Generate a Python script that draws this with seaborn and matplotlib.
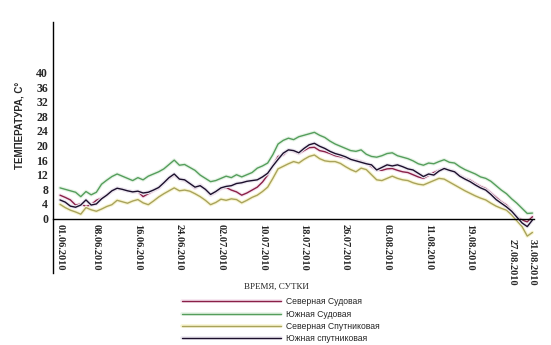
import numpy as np
import pandas as pd
import matplotlib
matplotlib.use("Agg")
import matplotlib.pyplot as plt
import matplotlib.patheffects as pe
from matplotlib.transforms import ScaledTranslation
import seaborn as sns

# ---- data -------------------------------------------------------------
dates = pd.date_range("2010-06-01", "2010-08-31", freq="D")

north_ship = [6.4, 5.8, 5.1, 3.7, 4.0, 3.3, 3.8, 5.0, 5.6, 6.4,
              7.5, 8.3, 8.0, 7.6, 7.3, 7.4, 6.0, 6.8, 7.6, 8.3,
              9.8, 11.0, 11.9, 10.8, 10.4, 9.6, 8.3, 9.2, 8.0, 6.4,
              7.2, 8.2, 8.5, 7.8, 7.3, 6.4, 7.0, 7.8, 8.6, 10.0,
              11.9, 14.5, 17.0, 17.4, 18.8, 18.4, 17.8, 18.6, 19.4, 19.5,
              18.6, 18.3, 17.8, 17.2, 16.9, 16.6, 16.2, 16.0, 15.6, 15.1,
              14.2, 13.3, 13.2, 13.6, 13.7, 13.2, 12.8, 12.6, 12.0, 11.4,
              11.0, 11.8, 12.6, 13.2, 13.7, 13.2, 12.8, 11.8, 11.0, 10.5,
              9.6, 8.8, 8.2, 7.0, 5.8, 4.6, 3.7, 2.2, 0.4, -0.4,
              -0.9, 0.5]

south_ship = [8.4, 8.0, 7.6, 7.2, 6.0, 7.4, 6.5, 7.2, 9.4, 10.5,
              11.5, 12.2, 11.6, 11.0, 10.4, 11.2, 10.6, 11.6, 12.2, 12.8,
              13.6, 14.8, 16.0, 14.6, 14.8, 14.0, 13.2, 11.9, 11.0, 10.1,
              10.4, 11.0, 11.6, 11.2, 12.0, 11.4, 12.0, 12.6, 13.8, 14.4,
              15.2, 17.5, 20.4, 21.4, 22.0, 21.6, 22.4, 22.8, 23.2, 23.6,
              22.8, 22.2, 21.2, 20.4, 19.8, 19.2, 18.6, 18.4, 18.8, 17.6,
              17.0, 16.8, 17.2, 17.8, 18.0, 17.2, 16.8, 16.4, 15.8, 15.0,
              14.6, 15.2, 15.0, 15.6, 16.1, 15.4, 15.2, 14.2, 13.4, 12.8,
              12.2, 11.4, 11.0, 10.2, 9.0, 7.8, 6.8, 5.4, 4.2, 2.8,
              1.4, 1.5]

north_sat = [3.9, 3.0, 2.3, 1.8, 1.2, 3.0, 2.4, 2.0, 2.6, 3.3,
             3.8, 5.0, 4.6, 4.2, 4.8, 5.2, 4.3, 3.8, 4.8, 5.9,
             6.8, 7.6, 8.4, 7.6, 7.8, 7.5, 6.8, 6.0, 5.0, 3.8,
             4.4, 5.3, 5.0, 5.4, 5.2, 4.3, 5.0, 5.8, 6.4, 7.4,
             8.6, 11.0, 13.6, 14.3, 15.0, 15.6, 15.2, 16.2, 17.0, 17.4,
             16.4, 15.8, 15.6, 15.6, 15.1, 14.2, 13.4, 12.8, 13.8, 13.4,
             12.0, 10.6, 10.4, 11.0, 11.6, 11.0, 10.6, 10.4, 9.8, 9.4,
             9.2, 9.8, 10.4, 11.0, 10.8, 10.0, 9.2, 8.4, 7.6, 6.9,
             6.2, 5.6, 5.1, 4.2, 3.4, 2.8, 2.3, 1.0, -0.6, -2.2,
             -4.8, -3.8]

south_sat = [5.1, 4.5, 3.4, 3.1, 3.7, 5.1, 3.7, 4.0, 5.4, 6.4,
             7.6, 8.3, 8.0, 7.6, 7.3, 7.5, 7.0, 7.2, 7.8, 8.5,
             9.8, 11.2, 12.2, 10.8, 10.6, 9.6, 8.6, 9.0, 8.0, 6.6,
             7.4, 8.4, 8.8, 9.0, 9.6, 9.8, 10.2, 10.4, 10.6, 11.4,
             12.4, 14.4, 16.2, 17.9, 18.8, 18.6, 18.0, 19.2, 20.2, 20.6,
             19.8, 19.2, 18.4, 17.8, 17.4, 16.9, 16.2, 15.8, 15.4, 15.0,
             14.7, 13.3, 14.0, 14.7, 14.4, 14.7, 14.2, 13.6, 13.3, 12.4,
             11.5, 12.2, 11.9, 13.0, 13.7, 13.2, 12.8, 11.6, 10.8, 10.1,
             9.2, 8.4, 7.8, 6.6, 5.2, 4.2, 3.2, 2.0, 0.4, -1.2,
             -2.2, -0.4]

series_names = ["Северная Судовая", "Южная Судовая",
                "Северная Спутниковая", "Южная спутниковая"]
series_values = [north_ship, south_ship, north_sat, south_sat]
series_colors = ["#8a2048", "#559e5c", "#a9a35c", "#1c0f2c"]
halo_colors = ["#f6e4ef", "#e6f3e6", "#f8f5d2", "#ebe7f0"]

tick_dates = ["01.06.2010", "08.06.2010", "16.06.2010", "24.06.2010",
              "02.07.2010", "10.07.2010", "18.07.2010", "26.07.2010",
              "03.08.2010", "11.08.2010", "19.08.2010", "27.08.2010",
              "31.08.2010"]
y_ticks = list(range(0, 41, 4))

# ---- long table -------------------------------------------------------
day = np.arange(len(dates))
frames = []
for name, vals in zip(series_names, series_values):
    frames.append(pd.DataFrame({"day": day, "temp": vals, "series": name}))
df = pd.concat(frames, ignore_index=True)

# ---- figure -----------------------------------------------------------
sns.set_theme(style="white")
plt.rcParams["font.family"] = ["Liberation Serif", "DejaVu Sans"]

W, H = 551, 345
fig = plt.figure(figsize=(W / 100, H / 100), dpi=100)
ax = fig.add_axes([53 / W, 1 - 273 / H, (534 - 53) / W, (273 - 22) / H])

palette = dict(zip(series_names, series_colors))
sns.lineplot(data=df, x="day", y="temp", hue="series", hue_order=series_names,
             palette=palette, linewidth=1.0, legend=False, ax=ax)

for line, halo in zip(ax.get_lines(), halo_colors):
    line.set_path_effects([pe.Stroke(linewidth=2.6, foreground=halo),
                           pe.Normal()])

ax.set_xlim(-1.35, 91.3)
ax.set_ylim(-14.9, 53.8)

# axes: left spine and a horizontal axis through zero
for s in ["top", "right"]:
    ax.spines[s].set_visible(False)
ax.spines["left"].set_color("black")
ax.spines["left"].set_linewidth(1.0)
ax.spines["bottom"].set_position(("data", 0))
ax.spines["bottom"].set_color("black")
ax.spines["bottom"].set_linewidth(1.0)

start = dates[0]
tick_pos = [(pd.to_datetime(t, format="%d.%m.%Y") - start).days for t in tick_dates]
ax.set_xticks(tick_pos)
ax.set_xticklabels(tick_dates, rotation=-90, fontsize=7.5, fontweight="bold",
                   va="top", ha="center")
ax.set_xticks([p - 4 for p in tick_pos[1:-1]], minor=True)
ax.tick_params(axis="x", which="major", length=0, pad=4)
ax.tick_params(axis="x", which="minor", length=4, width=0.8, direction="inout",
               color="black")

off = ScaledTranslation(0, -15 / 100, fig.dpi_scale_trans)
for lab in ax.get_xticklabels()[-2:]:
    lab.set_transform(lab.get_transform() + off)

ax.set_yticks(y_ticks)
ax.set_yticklabels([str(v) for v in y_ticks], fontsize=8.5, fontweight="bold")
ax.set_yticks([-12, -8, -4, 44, 48, 52], minor=True)
ax.tick_params(axis="y", which="both", length=2.5, width=0.8, direction="out",
               color="black", pad=1)
ax.grid(False)
ax.set_xlabel("")
ax.set_ylabel("")

fig.text(20 / W, 1 - 125 / H, "ТЕМПЕРАТУРА, С°", rotation=90, ha="center",
         va="center", fontsize=7, fontweight="bold",
         family=["Liberation Sans", "DejaVu Sans"])
fig.text(276 / W, 1 - 287 / H, "ВРЕМЯ, СУТКИ", ha="center", va="center",
         fontsize=6.5)

leg = fig.legend(handles=ax.get_lines(), labels=series_names,
                 loc="upper left", bbox_to_anchor=(182 / W, 1 - 297.5 / H),
                 frameon=False, handlelength=11.5,
                 handletextpad=0.6, labelspacing=0.38, borderpad=0,
                 borderaxespad=0,
                 prop={"family": ["Liberation Sans", "DejaVu Sans"],
                       "size": 6.2})
for h in leg.legend_handles:
    h.set_linewidth(1.0)

fig.savefig("out.png", dpi=100, facecolor="white")
